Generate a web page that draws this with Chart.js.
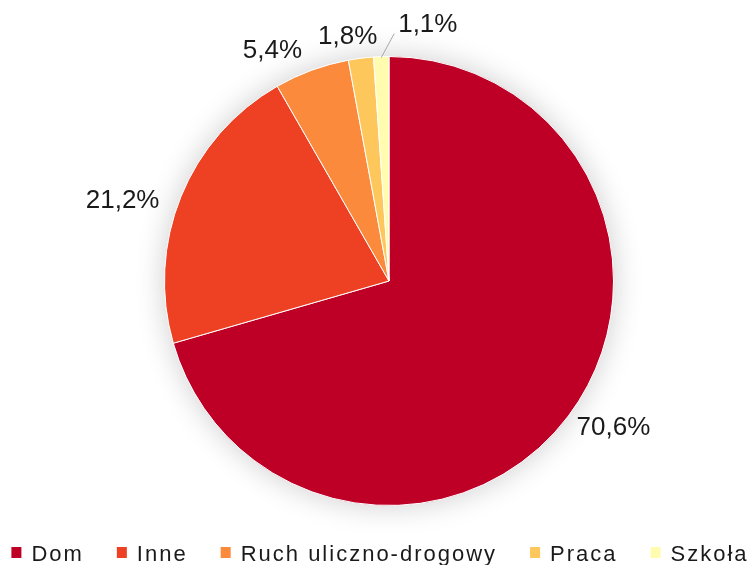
<!DOCTYPE html>
<html>
<head>
<meta charset="utf-8">
<script src="https://cdn.jsdelivr.net/npm/chart.js@4"></script>
<style>
  html, body { margin: 0; padding: 0; background: #fff; }
</style>
</head>
<body>
<canvas id="c" width="752" height="565"></canvas>
<script>
// dane wykresu
const categories = ['Dom', 'Inne', 'Ruch uliczno-drogowy', 'Praca', 'Szkoła'];
const shares = [70.6, 21.2, 5.4, 1.8, 1.1];
const sliceColors = ['#be0026', '#ee4023', '#fb8a3c', '#fdc75b', '#fffcb0'];

const FONT = '"Liberation Sans", Arial, sans-serif';

// miękki cień pod kołem
const pieShadow = {
  id: 'pieShadow',
  beforeDatasetsDraw(chart) {
    const arc = chart.getDatasetMeta(0).data[0];
    if (!arc) return;
    const ctx = chart.ctx;
    ctx.save();
    ctx.beginPath();
    ctx.arc(arc.x, arc.y, arc.outerRadius, 0, Math.PI * 2);
    ctx.shadowColor = 'rgba(0,0,0,0.2)';
    ctx.shadowBlur = 30;
    ctx.fillStyle = '#fff';
    ctx.fill();
    ctx.restore();
  },
};

// etykiety procentowe na zewnątrz koła
const outsideLabels = {
  id: 'outsideLabels',
  afterDatasetsDraw(chart, args, opts) {
    const ctx = chart.ctx;
    const meta = chart.getDatasetMeta(0);
    const values = chart.data.datasets[0].data;
    const nudge = opts.nudge || [];
    ctx.save();
    ctx.font = '26px ' + FONT;
    ctx.fillStyle = '#1a1a1a';
    ctx.textAlign = 'center';
    ctx.textBaseline = 'middle';
    meta.data.forEach((arc, i) => {
      const mid = (arc.startAngle + arc.endAngle) / 2;
      const R = arc.outerRadius;
      const gap = 12;
      const text = values[i].toFixed(1).replace('.', ',') + '%';
      const hw = ctx.measureText(text).width / 2;
      const hh = 11;
      const [dx, dy, leader] = nudge[i] || [0, 0, false];
      const x = arc.x + Math.cos(mid) * (R + gap + hw) + dx;
      const y = arc.y + Math.sin(mid) * (R + gap + hh) + dy;
      if (leader) {
        ctx.beginPath();
        ctx.strokeStyle = '#a6a6a6';
        ctx.lineWidth = 1;
        ctx.moveTo(arc.x + Math.cos(mid) * R, arc.y + Math.sin(mid) * R + 1);
        ctx.lineTo(x - hw - 4, y + hh - 2);
        ctx.stroke();
      }
      ctx.fillText(text, x, y);
    });
    ctx.restore();
  },
};

// legenda w jednym wierszu na dole
const bottomLegend = {
  id: 'bottomLegend',
  afterDraw(chart) {
    const ctx = chart.ctx;
    const labels = chart.data.labels;
    const colors = chart.data.datasets[0].backgroundColor;
    const boxW = 10, boxH = 11, textGap = 10, itemGap = 33;
    ctx.save();
    ctx.font = '22px ' + FONT;
    ctx.letterSpacing = '2px';
    const widths = labels.map((l) => ctx.measureText(l).width);
    const total = widths.reduce((s, w) => s + boxW + textGap + w, 0) + itemGap * (labels.length - 1);
    let x = (chart.width - total) / 2 + 4;
    const baseY = 561;
    labels.forEach((l, i) => {
      ctx.fillStyle = colors[i];
      ctx.fillRect(x, baseY - 14, boxW, boxH);
      x += boxW + textGap;
      ctx.fillStyle = '#1a1a1a';
      ctx.textBaseline = 'alphabetic';
      ctx.fillText(l, x, baseY);
      x += widths[i] + itemGap;
    });
    ctx.restore();
  },
};

new Chart(document.getElementById('c'), {
  type: 'pie',
  data: {
    labels: categories,
    datasets: [{
      data: shares,
      backgroundColor: sliceColors,
      borderColor: '#ffffff',
      borderWidth: 1,
    }],
  },
  options: {
    responsive: false,
    animation: false,
    layout: { padding: { left: 26, right: 0, top: 56, bottom: 59 } },
    plugins: {
      legend: { display: false },
      tooltip: { enabled: false },
      // ręczne przesunięcia etykiet (jak rozmieszczenie w Excelu)
      outsideLabels: {
        nudge: [[6, -2], [-13, 13], [-25, 2], [-8, 1], [48, -9, true]],
      },
    },
  },
  plugins: [pieShadow, outsideLabels, bottomLegend],
});
</script>
</body>
</html>
